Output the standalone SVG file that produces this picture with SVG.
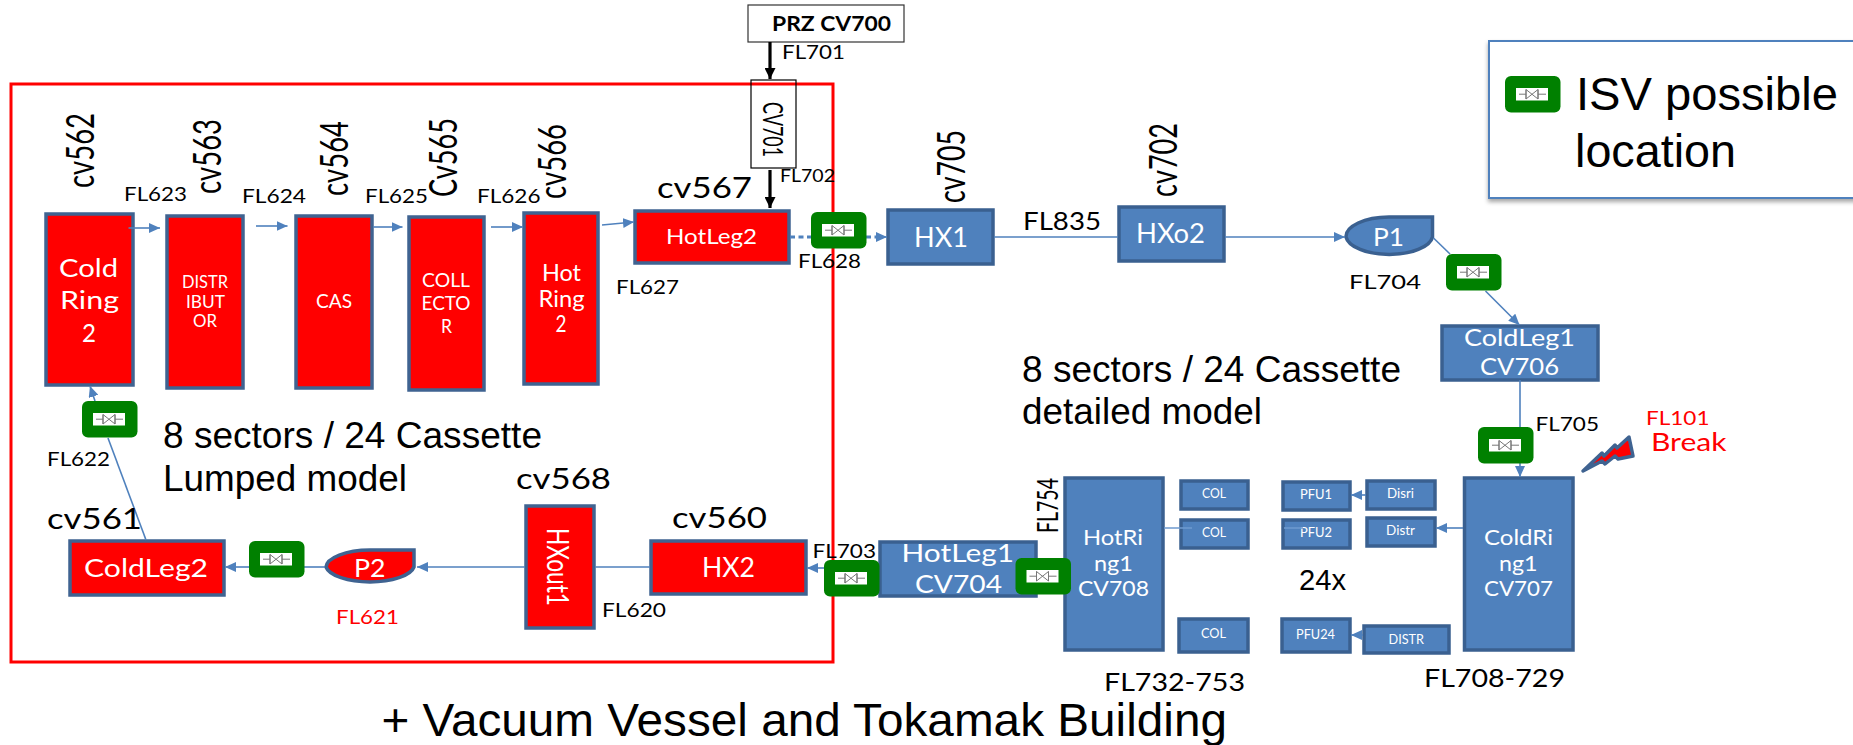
<svg xmlns="http://www.w3.org/2000/svg" xmlns:xlink="http://www.w3.org/1999/xlink" width="1853" height="745" viewBox="0 0 1853 745">
<style>
text{font-family:Lato,"Liberation Sans",sans-serif;fill:#000}
.a{font-family:"Liberation Sans",Arial,sans-serif}
.w{fill:#fff}
.r{fill:#f00}
.fl{font-size:19px}
.cv{font-size:38px}
.ch{font-size:29px}
.red{fill:#f00;stroke:#3f6391;stroke-width:3.5}
.blue{fill:#4f81bd;stroke:#3a6090;stroke-width:3.5}
.c{fill:none;stroke:#4f81bd;stroke-width:1.6;marker-end:url(#m)}
.n{fill:none;stroke:#4f81bd;stroke-width:1.6}
.k{fill:none;stroke:#000;stroke-width:3.2;marker-end:url(#mk)}
.d{fill:none;stroke:#4f81bd;stroke-width:3;stroke-dasharray:5 3.500}
</style>
<defs>
<marker id="m" markerUnits="userSpaceOnUse" markerWidth="12" markerHeight="10" refX="11" refY="5" orient="auto"><path d="M0,0L11,5L0,10Z" fill="#4f81bd"/></marker>
<marker id="mk" markerUnits="userSpaceOnUse" markerWidth="12" markerHeight="11" refX="11" refY="5.500" orient="auto"><path d="M0,0L11,5.500L0,11Z" fill="#000"/></marker>
<filter id="sh" x="-5%" y="-5%" width="110%" height="115%"><feDropShadow dx="0" dy="3" stdDeviation="2" flood-color="#000" flood-opacity=".35"/></filter>
<g id="isv">
<rect width="55.500" height="36.500" rx="6" fill="#008000"/>
<rect x="11" y="12" width="32" height="12.500" fill="#fff"/>
<path d="M14,18.200H21M33,18.200H41M21,13.500V23M33,13.500V23M21,13.500L33,23V13.500L21,23Z" fill="none" stroke="#777" stroke-width="1"/>
</g>
</defs>
<rect width="1853" height="745" fill="#fff"/>

<g id="lumped-frame"><rect x="11" y="84" width="822" height="578" fill="none" stroke="#f00" stroke-width="3"/></g>

<g id="legend">
<rect x="1489" y="41" width="420" height="157" fill="#fff" stroke="#4f81bd" stroke-width="2" filter="url(#sh)"/>
<use href="#isv" x="1505" y="76"/>
<text class="a" font-size="47" x="1576" y="110" textLength="262" lengthAdjust="spacingAndGlyphs">ISV possible</text>
<text class="a" font-size="47" x="1575" y="167" textLength="161" lengthAdjust="spacingAndGlyphs">location</text>
</g>

<g id="prz"><rect x="748" y="5" width="156" height="37" fill="#fff" stroke="#333" stroke-width="1.200"/>
<text font-size="20" font-weight="700" x="772" y="31" textLength="119" lengthAdjust="spacingAndGlyphs">PRZ CV700</text></g>
<g id="cv701"><rect x="751" y="80" width="45" height="88" fill="none" stroke="#000" stroke-width="1.200"/>
<text font-size="26" transform="translate(763,102) rotate(90)" textLength="55" lengthAdjust="spacingAndGlyphs">CV701</text></g>

<g id="cold-ring-2"><rect class="red" x="46" y="214" width="87" height="171"/>
<text class="w" font-size="25" x="59" y="277" textLength="59" lengthAdjust="spacingAndGlyphs">Cold</text>
<text class="w" font-size="25" x="60" y="309" textLength="59" lengthAdjust="spacingAndGlyphs">Ring</text>
<text class="w" font-size="25" x="82" y="342" textLength="14" lengthAdjust="spacingAndGlyphs">2</text></g>
<g id="distributor"><rect class="red" x="167" y="216" width="76" height="172"/>
<text class="w" font-size="17" x="182" y="288" textLength="46" lengthAdjust="spacingAndGlyphs">DISTR</text>
<text class="w" font-size="17" x="186" y="308" textLength="39" lengthAdjust="spacingAndGlyphs">IBUT</text>
<text class="w" font-size="17" x="193" y="327" textLength="24" lengthAdjust="spacingAndGlyphs">OR</text></g>
<g id="cas"><rect class="red" x="296" y="216" width="76" height="172"/>
<text class="w" font-size="19" x="316" y="308" textLength="36" lengthAdjust="spacingAndGlyphs">CAS</text></g>
<g id="collector"><rect class="red" x="409" y="217" width="75" height="173"/>
<text class="w" font-size="20" x="422" y="287" textLength="48" lengthAdjust="spacingAndGlyphs">COLL</text>
<text class="w" font-size="20" x="421.500" y="310" textLength="49" lengthAdjust="spacingAndGlyphs">ECTO</text>
<text class="w" font-size="20" x="441" y="333" textLength="11" lengthAdjust="spacingAndGlyphs">R</text></g>
<g id="hot-ring-2"><rect class="red" x="524" y="213" width="74" height="171"/>
<text class="w" font-size="23" x="542" y="281" textLength="39" lengthAdjust="spacingAndGlyphs">Hot</text>
<text class="w" font-size="23" x="538.500" y="307" textLength="46" lengthAdjust="spacingAndGlyphs">Ring</text>
<text class="w" font-size="23" x="555.500" y="332" textLength="11" lengthAdjust="spacingAndGlyphs">2</text></g>
<g id="hotleg2"><rect class="red" x="635" y="211" width="154" height="52"/>
<text class="w" font-size="22" x="666" y="244" textLength="91" lengthAdjust="spacingAndGlyphs">HotLeg2</text></g>
<g id="coldleg2"><rect class="red" x="70" y="541" width="154" height="54"/>
<text class="w" font-size="25" x="84" y="577" textLength="124" lengthAdjust="spacingAndGlyphs">ColdLeg2</text></g>
<g id="p2"><path class="red" d="M370,550H414V567A44.500,17.500 0 0 1 326,567A44.500,17.500 0 0 1 370,550Z"/>
<text class="w" font-size="25" x="354" y="577" textLength="31.500" lengthAdjust="spacingAndGlyphs">P2</text></g>
<g id="hxout1"><rect class="red" x="526" y="506" width="68" height="122"/>
<text class="w" font-size="30" transform="translate(547,528) rotate(90)" textLength="78" lengthAdjust="spacingAndGlyphs">HXout1</text></g>
<g id="hx2"><rect class="red" x="651" y="541" width="155" height="53"/>
<text class="w" font-size="27" x="702" y="577" textLength="53" lengthAdjust="spacingAndGlyphs">HX2</text></g>

<g id="hx1"><rect class="blue" x="888" y="210" width="105" height="54"/>
<text class="w" font-size="27" x="914" y="247" textLength="54" lengthAdjust="spacingAndGlyphs">HX1</text></g>
<g id="hxo2"><rect class="blue" x="1119" y="207" width="105" height="54"/>
<text class="w" font-size="27" x="1136" y="243" textLength="69" lengthAdjust="spacingAndGlyphs">HXo2</text></g>
<g id="p1"><path class="blue" d="M1389,217H1432.500V237A43.500,19.500 0 0 1 1346,237A43.500,19.500 0 0 1 1389,217Z"/>
<text class="w" font-size="25" x="1373" y="246" textLength="31" lengthAdjust="spacingAndGlyphs">P1</text></g>
<g id="coldleg1"><rect class="blue" x="1442" y="326" width="156" height="54"/>
<text class="w" font-size="23" x="1464" y="346" textLength="111" lengthAdjust="spacingAndGlyphs">ColdLeg1</text>
<text class="w" font-size="23" x="1480" y="375" textLength="79" lengthAdjust="spacingAndGlyphs">CV706</text></g>
<g id="coldring1"><rect class="blue" x="1464.500" y="478" width="108.500" height="172"/>
<text class="w" font-size="22" x="1484" y="545" textLength="69" lengthAdjust="spacingAndGlyphs">ColdRi</text>
<text class="w" font-size="22" x="1499" y="571" textLength="38.500" lengthAdjust="spacingAndGlyphs">ng1</text>
<text class="w" font-size="22" x="1484" y="596" textLength="69" lengthAdjust="spacingAndGlyphs">CV707</text></g>
<g id="hotleg1"><rect class="blue" x="880" y="542" width="156" height="54"/>
<text class="w" font-size="25" x="901.500" y="562" textLength="112.500" lengthAdjust="spacingAndGlyphs">HotLeg1</text>
<text class="w" font-size="25" x="915" y="593" textLength="87" lengthAdjust="spacingAndGlyphs">CV704</text></g>
<g id="hotring1"><rect class="blue" x="1065" y="478" width="98" height="172"/>
<text class="w" font-size="22" x="1083" y="545" textLength="60" lengthAdjust="spacingAndGlyphs">HotRi</text>
<text class="w" font-size="22" x="1094" y="571" textLength="39" lengthAdjust="spacingAndGlyphs">ng1</text>
<text class="w" font-size="22" x="1078" y="596" textLength="71" lengthAdjust="spacingAndGlyphs">CV708</text></g>
<g id="col1"><rect class="blue" x="1181" y="481" width="67" height="28"/><text class="w" font-size="14" x="1202" y="498" textLength="24" lengthAdjust="spacingAndGlyphs">COL</text></g>
<g id="col2"><rect class="blue" x="1181" y="520" width="67" height="28"/><text class="w" font-size="14" x="1202" y="537" textLength="24" lengthAdjust="spacingAndGlyphs">COL</text></g>
<g id="col24"><rect class="blue" x="1179" y="619" width="69" height="33"/><text class="w" font-size="14" x="1201" y="638" textLength="25" lengthAdjust="spacingAndGlyphs">COL</text></g>
<g id="pfu1"><rect class="blue" x="1283" y="482" width="67" height="28"/><text class="w" font-size="14" x="1300" y="499" textLength="32" lengthAdjust="spacingAndGlyphs">PFU1</text></g>
<g id="pfu2"><rect class="blue" x="1283" y="520" width="67" height="28"/><text class="w" font-size="14" x="1300" y="537" textLength="32" lengthAdjust="spacingAndGlyphs">PFU2</text></g>
<g id="pfu24"><rect class="blue" x="1282" y="619" width="68" height="33"/><text class="w" font-size="14" x="1296" y="639" textLength="39" lengthAdjust="spacingAndGlyphs">PFU24</text></g>
<g id="disri"><rect class="blue" x="1367" y="481" width="68" height="28"/><text class="w" font-size="14" x="1387" y="498" textLength="27" lengthAdjust="spacingAndGlyphs">Disri</text></g>
<g id="distr"><rect class="blue" x="1367" y="518" width="68" height="28"/><text class="w" font-size="14" x="1386" y="535" textLength="29" lengthAdjust="spacingAndGlyphs">Distr</text></g>
<g id="distr24"><rect class="blue" x="1364" y="626" width="85" height="27"/><text class="w" font-size="14" x="1388.500" y="644" textLength="35.500" lengthAdjust="spacingAndGlyphs">DISTR</text></g>

<g id="connectors">
<path class="c" d="M128.500,228H160"/>
<path class="c" d="M256,226H287.500"/>
<path class="c" d="M373,227H402.500"/>
<path class="c" d="M491,227H523"/>
<path class="c" d="M602,225L634,222"/>
<path class="k" d="M770,42V79"/>
<path class="k" d="M770,170V208"/>
<path class="d" d="M790,237H811"/>
<path class="d" d="M866,237H878"/>
<path class="c" d="M876,237H887"/>
<path class="n" d="M994,237H1118"/>
<path class="c" d="M1225,237H1345"/>
<path class="n" d="M1433.500,238L1450,254"/>
<path class="c" d="M1485.500,291L1519.500,325"/>
<path class="n" d="M1520,380V427"/>
<path class="c" d="M1520,463V477"/>
<path class="c" d="M1366,495H1351"/>
<path class="c" d="M1463,528H1436"/>
<path class="c" d="M1363,635H1351"/>
<path stroke="#6f9bd0" stroke-width="1.300" fill="none" d="M1164,528H1192M1284,528H1303"/>
<path class="c" d="M824,568H807"/>
<path class="n" d="M650,567H595"/>
<path class="c" d="M525,567H417"/>
<path class="n" d="M325,567H304"/>
<path class="c" d="M249,567H225"/>
<path class="n" d="M146,540L108,438"/>
<path class="c" d="M95,401L90,386"/>
</g>

<g id="isv-valves">
<use href="#isv" x="811" y="212"/>
<use href="#isv" x="1446" y="254"/>
<use href="#isv" x="1478" y="427"/>
<use href="#isv" x="824" y="560"/>
<use href="#isv" x="1015.500" y="558"/>
<use href="#isv" x="249" y="541"/>
<use href="#isv" x="82" y="401"/>
</g>

<g id="break"><path d="M1583,471L1602,453L1604,456L1615,445L1617,448L1629,437L1633,456L1618,459L1615,456L1605,464L1602,461Z" fill="#f00" stroke="#3f6391" stroke-width="3.500" stroke-linejoin="round"/></g>

<g id="labels">
<text class="cv" transform="translate(94,188) rotate(-90)" textLength="75" lengthAdjust="spacingAndGlyphs">cv562</text>
<text class="cv" transform="translate(221,194) rotate(-90)" textLength="75" lengthAdjust="spacingAndGlyphs">cv563</text>
<text class="cv" transform="translate(348,196) rotate(-90)" textLength="75" lengthAdjust="spacingAndGlyphs">cv564</text>
<text class="cv" transform="translate(457,197) rotate(-90)" textLength="79" lengthAdjust="spacingAndGlyphs">Cv565</text>
<text class="cv" transform="translate(566,199) rotate(-90)" textLength="75" lengthAdjust="spacingAndGlyphs">cv566</text>
<text class="cv" transform="translate(965,203) rotate(-90)" textLength="73" lengthAdjust="spacingAndGlyphs">cv705</text>
<text class="cv" transform="translate(1177,197) rotate(-90)" textLength="74" lengthAdjust="spacingAndGlyphs">cv702</text>
<text class="ch" x="657" y="198" textLength="95" lengthAdjust="spacingAndGlyphs">cv567</text>
<text class="ch" x="47" y="529" textLength="95" lengthAdjust="spacingAndGlyphs">cv561</text>
<text class="ch" x="516" y="489" textLength="95" lengthAdjust="spacingAndGlyphs">cv568</text>
<text class="ch" x="672" y="528" textLength="95" lengthAdjust="spacingAndGlyphs">cv560</text>
<text class="fl" x="124" y="201" textLength="63" lengthAdjust="spacingAndGlyphs">FL623</text>
<text class="fl" x="242" y="203" textLength="64" lengthAdjust="spacingAndGlyphs">FL624</text>
<text class="fl" x="365" y="203" textLength="63" lengthAdjust="spacingAndGlyphs">FL625</text>
<text class="fl" x="477" y="203" textLength="63.500" lengthAdjust="spacingAndGlyphs">FL626</text>
<text class="fl" x="616" y="294" textLength="63" lengthAdjust="spacingAndGlyphs">FL627</text>
<text class="fl" x="798" y="268" textLength="63" lengthAdjust="spacingAndGlyphs">FL628</text>
<text class="fl" x="782" y="59" textLength="63" lengthAdjust="spacingAndGlyphs">FL701</text>
<text font-size="18" x="780" y="182" textLength="55" lengthAdjust="spacingAndGlyphs">FL702</text>
<text font-size="25" x="1023" y="230" textLength="78" lengthAdjust="spacingAndGlyphs">FL835</text>
<text class="fl" x="1349" y="289" textLength="72" lengthAdjust="spacingAndGlyphs">FL704</text>
<text class="fl" x="1535.500" y="431" textLength="63.500" lengthAdjust="spacingAndGlyphs">FL705</text>
<text class="fl r" x="1646" y="425" textLength="63.500" lengthAdjust="spacingAndGlyphs">FL101</text>
<text class="r" font-size="25" x="1651" y="451" textLength="75.500" lengthAdjust="spacingAndGlyphs">Break</text>
<text class="fl" x="47" y="466" textLength="63" lengthAdjust="spacingAndGlyphs">FL622</text>
<text class="fl r" x="336" y="624" textLength="63" lengthAdjust="spacingAndGlyphs">FL621</text>
<text class="fl" x="602" y="617" textLength="64" lengthAdjust="spacingAndGlyphs">FL620</text>
<text class="fl" x="812.500" y="558" textLength="63.500" lengthAdjust="spacingAndGlyphs">FL703</text>
<text font-size="29" transform="translate(1058,533) rotate(-90)" textLength="55" lengthAdjust="spacingAndGlyphs">FL754</text>
<text font-size="25" x="1104" y="691" textLength="141" lengthAdjust="spacingAndGlyphs">FL732-753</text>
<text font-size="25" x="1424" y="687" textLength="141" lengthAdjust="spacingAndGlyphs">FL708-729</text>
<text class="a" font-size="36" x="163" y="448" textLength="379" lengthAdjust="spacingAndGlyphs">8 sectors / 24 Cassette</text>
<text class="a" font-size="36" x="163" y="491" textLength="244" lengthAdjust="spacingAndGlyphs">Lumped model</text>
<text class="a" font-size="36" x="1022" y="382" textLength="379" lengthAdjust="spacingAndGlyphs">8 sectors / 24 Cassette</text>
<text class="a" font-size="36" x="1022" y="424" textLength="240" lengthAdjust="spacingAndGlyphs">detailed model</text>
<text class="a" font-size="30" x="1299" y="590" textLength="47" lengthAdjust="spacingAndGlyphs">24x</text>
<text class="a" font-size="47" x="381.500" y="736" textLength="845.500" lengthAdjust="spacingAndGlyphs">+ Vacuum Vessel and Tokamak Building</text>
</g>
</svg>
